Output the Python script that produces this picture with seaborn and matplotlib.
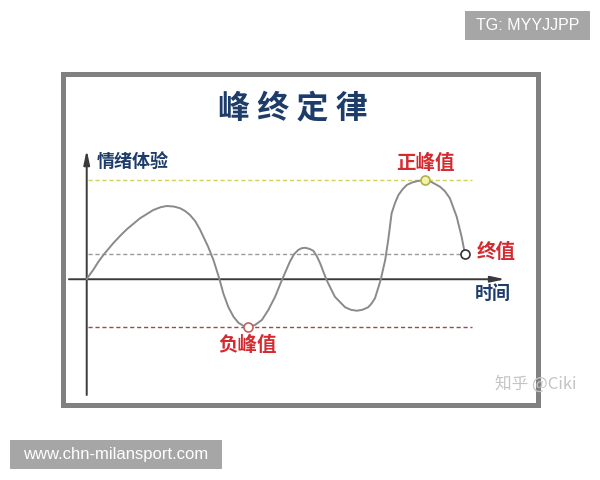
import matplotlib
matplotlib.use("Agg")
import matplotlib.pyplot as plt
import seaborn as sns
import numpy as np
import pandas as pd
from matplotlib.patches import Rectangle

# 情绪曲线 (从图上读取的点)
time = [0.0, 0.05, 0.17, 0.30, 0.44, 0.70, 0.88, 1.06, 1.41, 1.76, 1.95, 2.11,
        2.30, 2.47, 2.60, 2.73, 2.87, 3.00, 3.21, 3.35, 3.51, 3.61, 3.74, 3.88,
        4.01, 4.14, 4.27, 4.45, 4.63, 4.80, 4.98, 5.16, 5.37, 5.48,
        5.59, 5.68, 5.77, 5.88, 5.99, 6.08, 6.17, 6.34, 6.56, 6.83, 6.98, 7.14,
        7.29, 7.44, 7.53, 7.62, 7.77, 7.89, 7.97, 8.06, 8.15, 8.24, 8.35, 8.46,
        8.60, 8.75, 8.94, 9.10, 9.34, 9.47, 9.60, 9.78, 9.91, 10.0]
emotion = [0.0, 0.12, 0.37, 0.68, 0.97, 1.44, 1.73, 2.00, 2.44, 2.77, 2.88, 2.93,
           2.91, 2.84, 2.73, 2.57, 2.32, 1.97, 1.30, 0.77, 0.0, -0.56, -1.10, -1.50,
           -1.74, -1.86, -1.90, -1.83, -1.63, -1.23, -0.70, -0.03, 0.70, 1.00,
           1.17, 1.24, 1.26, 1.22, 1.14, 0.93, 0.64, -0.03, -0.70, -1.12, -1.22, -1.26,
           -1.22, -1.12, -0.97, -0.76, -0.03, 0.77, 1.57, 2.64, 3.05, 3.37, 3.60, 3.77,
           3.87, 3.93, 3.97, 3.90, 3.70, 3.52, 3.24, 2.50, 1.70, 1.0]

title = "峰 终 定 律"
y_label = "情绪体验"
x_label = "时间"
peak_label = "正峰值"
trough_label = "负峰值"
end_label = "终值"

df = pd.DataFrame({"time": time, "emotion": emotion})
i_peak = int(np.argmax(emotion))
i_trough = int(np.argmin(emotion))
i_end = len(emotion) - 1

sns.set_theme(style="white")
plt.rcParams['font.family'] = ['Noto Sans CJK SC', 'DejaVu Sans']

fig = plt.figure(figsize=(6, 4.8), dpi=100)

# 背景层 (像素坐标)
bg = fig.add_axes([0, 0, 1, 1])
bg.set_xlim(0, 600)
bg.set_ylim(480, 0)
bg.axis("off")
bg.add_patch(Rectangle((62.5, 73.5), 475, 331, facecolor="white",
                       edgecolor="#808080", lw=3.6))
bg.text(293, 108, title, ha="center", va="center", fontsize=23,
        fontweight="heavy", color="#1d3c6a")
bg.text(495, 384, "知乎 @Ciki", ha="left", va="center", fontsize=12,
        color="#c4c4c4")
bg.add_patch(Rectangle((465, 11), 125, 29, facecolor="#a6a6a6", lw=0))
bg.text(527.5, 25.5, "TG: MYYJJPP", ha="center", va="center", fontsize=11.5,
        color="white", family="Liberation Sans")
bg.add_patch(Rectangle((10, 440), 212, 29, facecolor="#a6a6a6", lw=0))
bg.text(116, 454.5, "www.chn-milansport.com", ha="center", va="center",
        fontsize=12, color="white", family="Liberation Sans")

# 曲线层
ax = fig.add_axes([65 / 600, 78 / 480, 470 / 600, 326 / 480])
ax.patch.set_alpha(0)
ax.set_xlim(-0.574, 11.85)
ax.set_ylim(-4.91, 8.13)
ax.axis("off")

# 坐标轴
arrow = dict(arrowstyle="-|>,head_length=0.7,head_width=0.15", lw=1.4,
             color="#3a3a3a", shrinkA=0, shrinkB=0)
ax.annotate("", xy=(0, 5.17), xytext=(0, -4.63), arrowprops=arrow)
ax.annotate("", xy=(11.06, 0), xytext=(-0.47, 0), arrowprops=arrow)

# 参考虚线
ax.hlines(emotion[i_peak], 0.03, 10.18, colors="#d2d25a", lw=1.0,
          linestyles=(0, (3, 2)))
ax.hlines(emotion[i_end], 0.03, 9.95, colors="#9a9a9a", lw=1.0,
          linestyles=(0, (3, 2)))
ax.hlines(emotion[i_trough], 0.03, 10.18, colors="#a04848", lw=1.0,
          linestyles=(0, (3, 2)))

sns.lineplot(data=df, x="time", y="emotion", ax=ax, sort=False,
             estimator=None, color="#8a8a8a", lw=1.4, zorder=3)

ax.plot(time[i_peak], emotion[i_peak], "o", ms=6.5, mfc="#f3f3a6",
        mec="#b0b050", mew=1.2, zorder=4)
ax.plot(time[i_trough], emotion[i_trough], "o", ms=6.5, mfc="white",
        mec="#c46060", mew=1.2, zorder=4)
ax.plot(time[i_end], emotion[i_end], "o", ms=6.5, mfc="white",
        mec="#333333", mew=1.2, zorder=4)

navy = "#1d3c6a"
red = "#d42a30"
ax.text(0.27, 4.73, y_label, ha="left", va="center", fontsize=13,
        fontweight="bold", color=navy)
ax.text(10.26, -0.55, x_label, ha="left", va="center", fontsize=13,
        fontweight="bold", color=navy)
ax.text(8.96, 4.64, peak_label, ha="center", va="center", fontsize=14,
        fontweight="bold", color=red)
ax.text(10.31, 1.06, end_label, ha="left", va="center", fontsize=14,
        fontweight="bold", color=red)
ax.text(4.25, -2.63, trough_label, ha="center", va="center", fontsize=14,
        fontweight="bold", color=red)

plt.savefig("out.png", dpi=100)
